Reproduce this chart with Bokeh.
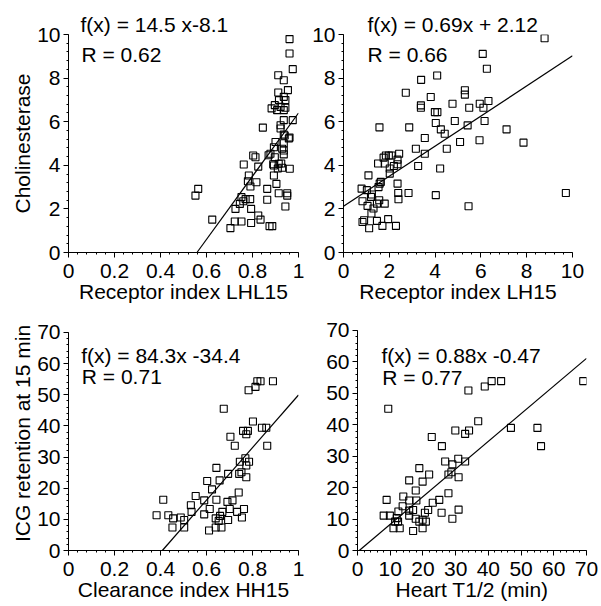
from bokeh.plotting import figure
from bokeh.models import Range1d, FixedTicker, Label, CustomJSTickFormatter
from bokeh.layouts import column, row
from bokeh.embed import file_html
from bokeh.resources import INLINE
import numpy as np

FONT = "Liberation Sans"

# ---- Panel 1: Receptor index LHL15 vs Cholinesterase ----
lhl15_x = [0.961, 0.961, 0.975, 0.912, 0.936, 0.954, 0.912, 0.936, 0.943, 0.915,
           0.883, 0.897, 0.922, 0.943, 0.907, 0.936, 0.975, 0.936, 0.922, 0.922,
           0.845, 0.958, 0.936, 0.936, 0.893, 0.936, 0.936, 0.878, 0.897, 0.803,
           0.813, 0.762, 0.825, 0.893, 0.914, 0.929, 0.962, 0.784, 0.817, 0.791,
           0.893, 0.904, 0.864, 0.914, 0.951, 0.951, 0.864, 0.564, 0.552, 0.752,
           0.770, 0.790, 0.760, 0.726, 0.794, 0.943, 0.745, 0.825, 0.835, 0.625,
           0.723, 0.752, 0.794, 0.704, 0.874, 0.886, 0.929, 0.900, 0.940, 0.961,
           0.780, 0.910, 0.925, 0.890, 0.870]
lhl15_y = [9.79, 9.13, 8.41, 8.13, 7.90, 7.45, 7.34, 7.14, 6.99, 6.99,
           6.61, 6.76, 6.68, 6.64, 6.53, 6.53, 6.07, 6.07, 5.84, 5.69,
           5.73, 5.23, 5.41, 5.01, 4.83, 4.68, 4.50, 4.53, 4.37, 4.45,
           4.37, 4.04, 3.94, 3.99, 4.07, 3.89, 3.84, 3.53, 3.22, 3.03,
           3.53, 3.15, 2.92, 2.72, 2.72, 2.61, 2.42, 2.92, 2.61, 2.54,
           2.45, 2.45, 2.35, 2.00, 2.00, 2.11, 2.23, 1.70, 1.51, 1.51,
           1.42, 1.42, 1.35, 1.12, 1.21, 1.21, 4.76, 5.07, 5.37, 5.27,
           3.27, 3.85, 4.08, 4.05, 4.46]
fit1 = [14.5, -8.1]

# ---- Panel 2: Receptor index LH15 vs Cholinesterase ----
lh15_x = [8.78, 6.08, 6.26, 4.09, 3.39, 2.72, 3.81, 5.30, 5.30, 3.38,
          3.38, 4.76, 3.99, 4.10, 5.95, 6.33, 6.11, 5.49, 1.57, 2.87,
          4.03, 4.86, 4.25, 4.42, 6.16, 7.12, 5.42, 3.55, 5.09, 5.94,
          7.86, 3.16, 4.51, 3.55, 2.43, 1.85, 1.98, 2.10, 1.75, 1.51,
          1.80, 2.36, 2.36, 2.20, 2.02, 2.02, 3.26, 4.22, 1.09, 1.63,
          1.58, 1.53, 0.79, 1.02, 2.36, 1.24, 1.20, 2.39, 2.84, 4.03,
          9.71, 2.40, 0.83, 1.56, 1.46, 1.80, 1.05, 5.46, 1.31, 1.22,
          0.90, 0.83, 1.46, 1.95, 1.70, 2.29, 1.12]
lh15_y = [9.83, 9.11, 8.43, 8.12, 7.92, 7.33, 7.13, 7.44, 7.24, 6.75,
          6.64, 6.82, 6.44, 6.44, 6.82, 6.95, 6.64, 6.64, 5.74, 5.74,
          5.94, 6.03, 5.65, 5.45, 6.03, 5.65, 5.83, 5.25, 5.07, 5.15,
          5.04, 4.76, 4.76, 4.53, 4.53, 4.45, 4.45, 4.45, 4.35, 4.08,
          4.08, 4.26, 4.05, 3.97, 3.85, 3.62, 3.97, 3.85, 3.54, 3.24,
          3.16, 3.00, 2.93, 2.86, 3.16, 2.66, 2.55, 2.73, 2.73, 2.63,
          2.73, 2.44, 2.35, 2.40, 2.24, 2.24, 2.14, 2.12, 2.02, 1.79,
          1.48, 1.40, 1.45, 1.53, 1.22, 1.22, 1.11]
fit2 = [0.69, 2.12]

# ---- Panel 3: Clearance index HH15 vs ICG retention ----
hh15_x = [0.889, 0.821, 0.835, 0.813, 0.783, 0.675, 0.802, 0.759, 0.780, 0.841,
          0.860, 0.773, 0.704, 0.723, 0.864, 0.745, 0.769, 0.785, 0.773, 0.742,
          0.752, 0.694, 0.773, 0.643, 0.603, 0.657, 0.624, 0.553, 0.740, 0.590,
          0.643, 0.412, 0.532, 0.691, 0.713, 0.614, 0.763, 0.669, 0.701, 0.733,
          0.535, 0.590, 0.659, 0.383, 0.434, 0.488, 0.455, 0.503, 0.640, 0.653,
          0.694, 0.754, 0.452, 0.503, 0.640, 0.665, 0.611]
hh15_y = [54.3, 54.3, 54.3, 52.5, 51.4, 45.5, 41.4, 38.4, 38.4, 39.4,
          39.4, 37.3, 36.5, 33.6, 33.6, 28.5, 29.6, 28.5, 27.3, 24.6,
          25.1, 24.6, 23.5, 26.5, 22.3, 22.5, 19.6, 17.5, 18.6, 16.1,
          16.3, 16.3, 14.5, 15.6, 16.1, 13.3, 13.3, 12.4, 13.3, 12.4,
          12.4, 11.6, 11.1, 11.3, 11.3, 10.6, 10.3, 9.8, 10.3, 9.5,
          9.8, 10.6, 7.4, 7.4, 7.4, 7.4, 6.4]
fit3 = [84.3, -34.4]

# ---- Panel 4: Heart T1/2 vs ICG retention ----
heart_x = [69.0, 43.9, 41.0, 38.9, 33.9, 9.4, 36.9, 46.9, 55.0, 56.1,
           29.9, 34.1, 32.9, 22.7, 25.8, 30.8, 26.8, 32.9, 29.0, 27.8,
           28.7, 30.9, 18.9, 21.9, 15.8, 19.9, 17.8, 27.8, 8.9, 14.0,
           15.8, 18.0, 25.0, 23.0, 13.8, 12.5, 15.8, 17.0, 21.6, 30.9,
           25.7, 20.6, 8.0, 9.9, 15.8, 12.0, 17.8, 29.0, 19.9, 11.5,
           12.4, 18.9, 20.9, 11.0, 12.9, 19.9, 17.0]
heart_y = [53.9, 53.9, 53.9, 52.2, 50.9, 45.1, 41.1, 39.0, 39.0, 33.2,
           38.2, 38.2, 37.1, 36.1, 33.2, 29.2, 28.3, 28.3, 27.4, 24.2,
           24.9, 23.3, 26.2, 24.2, 22.3, 21.9, 19.1, 18.2, 16.1, 17.2,
           15.9, 15.9, 16.1, 15.2, 14.1, 12.4, 12.7, 12.9, 12.9, 13.0,
           12.0, 12.0, 11.1, 11.1, 11.1, 10.3, 10.1, 10.1, 9.8, 9.2,
           9.2, 9.2, 9.2, 7.1, 7.1, 7.1, 6.2]
fit4 = [0.88, -0.47]

eq_texts = ["f(x) = 14.5 x-8.1", "f(x) = 0.69x + 2.12", "f(x) = 84.3x -34.4", "f(x) = 0.88x  -0.47"]
r_texts = ["R = 0.62", "R = 0.66", "R = 0.71", "R = 0.77"]

FS = "21px"


def panel(xs, ys, fit, xr, ybounds, ytop, xmaj, xminor_step, ymaj, yminor_step, xlabel, ylabel,
          eq, rt, eq_title_offset, eq_pos, r_pos, w, h, bl, br, bt, bb):
    p = figure(width=w, height=h, x_range=Range1d(*xr), y_range=Range1d(ybounds[0], ytop),
               output_backend="svg", toolbar_location=None,
               min_border_left=bl, min_border_right=br, min_border_top=bt, min_border_bottom=bb)
    p.outline_line_color = None
    p.grid.visible = False
    p.background_fill_color = "white"
    p.border_fill_color = "white"
    fmt = CustomJSTickFormatter(code="return String(Math.round(tick*1000)/1000);")
    p.xaxis.ticker = FixedTicker(ticks=xmaj, minor_ticks=list(np.arange(xr[0], xr[1] + 1e-9, xminor_step)))
    p.yaxis.ticker = FixedTicker(ticks=ymaj, minor_ticks=list(np.arange(ybounds[0], ybounds[1] + 1e-9, yminor_step)))
    p.yaxis.bounds = ybounds
    for ax in (p.xaxis[0], p.yaxis[0]):
        ax.formatter = fmt
        ax.axis_line_color = "black"
        ax.axis_line_width = 1
        ax.major_tick_line_color = "black"
        ax.minor_tick_line_color = "black"
        ax.major_tick_in = 0
        ax.major_tick_out = 5
        ax.minor_tick_in = 0
        ax.minor_tick_out = 2
        ax.major_label_text_font = FONT
        ax.major_label_text_font_size = FS
        ax.major_label_text_color = "black"
        ax.axis_label_text_font = FONT
        ax.axis_label_text_font_size = FS
        ax.axis_label_text_font_style = "normal"
        ax.axis_label_text_color = "black"
    p.xaxis.axis_label = xlabel
    p.xaxis.major_label_standoff = 6
    p.xaxis.axis_label_standoff = -1
    if ylabel:
        p.yaxis.axis_label = ylabel
    p.yaxis.major_label_standoff = 3
    p.yaxis.axis_label_standoff = 0

    m, b = fit
    x0 = max(xr[0], (ybounds[0] - b) / m)
    x1 = min(xr[1], (ybounds[1] - b) / m)
    p.line([x0, x1], [m * x0 + b, m * x1 + b], line_color="black", line_width=1.2)
    p.scatter(xs, ys, marker="square", size=7, fill_color=None, line_color="black", line_width=1.1)

    if eq_title_offset is not None:
        p.title.text = eq
        p.title.text_font = FONT
        p.title.text_font_size = FS
        p.title.text_font_style = "normal"
        p.title.text_color = "black"
        p.title.align = "left"
        p.title.offset = eq_title_offset
        p.title.standoff = -3
        p.title.vertical_align = "bottom"
    else:
        p.add_layout(Label(x=eq_pos[0], y=eq_pos[1], text=eq, text_font=FONT, text_font_size=FS,
                           text_color="black", text_baseline="alphabetic", text_align="left"))
    p.add_layout(Label(x=r_pos[0], y=r_pos[1], text=rt, text_font=FONT, text_font_size=FS,
                       text_color="black", text_baseline="alphabetic", text_align="left"))
    return p


p1 = panel(lhl15_x, lhl15_y, fit1, (0, 1), (0, 10), 10, [0, 0.2, 0.4, 0.6, 0.8, 1], 0.04,
           [0, 2, 4, 6, 8, 10], 0.4, "Receptor index LHL15", "Cholinesterase",
           eq_texts[0], r_texts[0], 12, None, (0.056, 9.07),
           308, 316, 68, 10, 34, 64)
p2 = panel(lh15_x, lh15_y, fit2, (0, 10), (0, 10), 10, [0, 2, 4, 6, 8, 10], 0.4,
           [0, 2, 4, 6, 8, 10], 0.4, "Receptor index LH15", None,
           eq_texts[1], r_texts[1], 24, None, (1.05, 9.07),
           284, 316, 35, 20, 34, 64)
p3 = panel(hh15_x, hh15_y, fit3, (0, 1), (0, 70), 75.09, [0, 0.2, 0.4, 0.6, 0.8, 1], 0.04,
           [0, 10, 20, 30, 40, 50, 60, 70], 2, "Clearance index HH15", "ICG retention at 15 min",
           eq_texts[2], r_texts[2], None, (0.055, 62.7), (0.058, 55.7),
           308, 300, 68, 10, 0, 64)
p4 = panel(heart_x, heart_y, fit4, (0, 70), (0, 70), 74.45, [0, 10, 20, 30, 40, 50, 60, 70], 2,
           [0, 10, 20, 30, 40, 50, 60, 70], 2, "Heart T1/2 (min)", None,
           eq_texts[3], r_texts[3], None, (7.3, 62.0), (7.6, 55.0),
           292, 300, 49, 14, 0, 66)

layout = column(row(p1, p2), row(p3, p4))
open("out.html", "w").write(file_html(layout, INLINE))
